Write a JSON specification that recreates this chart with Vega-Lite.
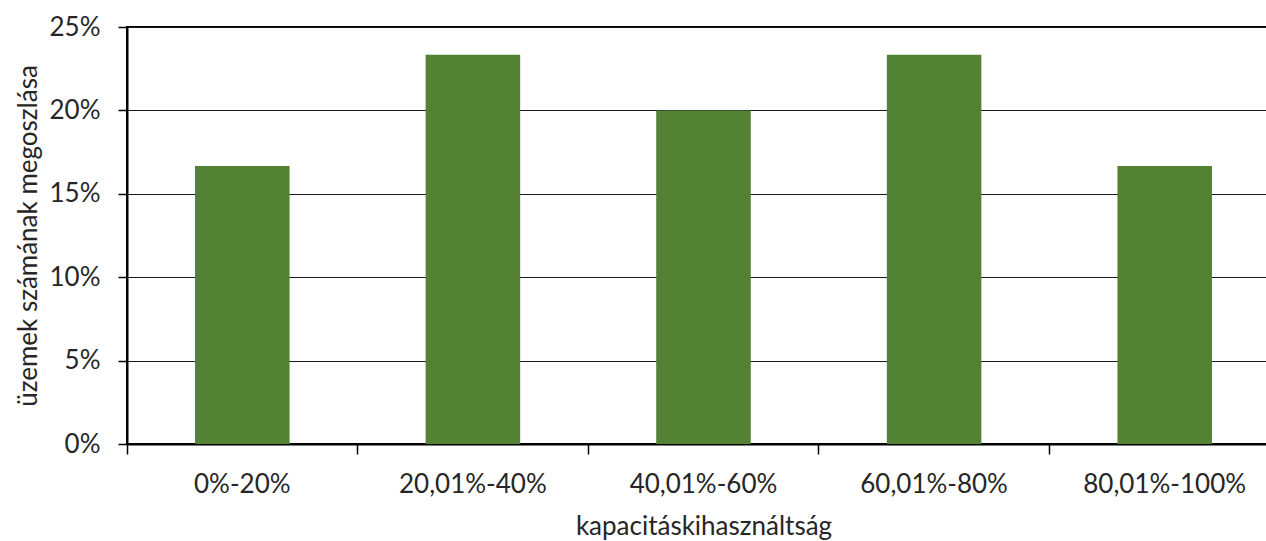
{
  "$schema": "https://vega.github.io/schema/vega-lite/v6.json",
  "autosize": "none",
  "width": 1153,
  "height": 417,
  "padding": {"left": 127, "top": 27, "right": 0, "bottom": 97},
  "background": "white",
  "data": {
    "values": [
      {"kategoria": "0%-20%", "ertek": 0.1667},
      {"kategoria": "20,01%-40%", "ertek": 0.2333},
      {"kategoria": "40,01%-60%", "ertek": 0.2},
      {"kategoria": "60,01%-80%", "ertek": 0.2333},
      {"kategoria": "80,01%-100%", "ertek": 0.1667}
    ]
  },
  "config": {
    "font": "Lato",
    "view": {"stroke": "#000", "strokeWidth": 2},
    "axis": {
      "labelFont": "Lato",
      "titleFont": "Lato",
      "labelColor": "#262626",
      "titleColor": "#262626",
      "labelFontSize": 26,
      "titleFontSize": 26,
      "titleFontWeight": "normal",
      "domainColor": "#000",
      "domainWidth": 2,
      "tickColor": "#000",
      "tickWidth": 1.5
    }
  },
  "mark": {"type": "bar", "color": "#548235", "width": {"band": 0.41}},
  "encoding": {
    "x": {
      "field": "kategoria",
      "type": "nominal",
      "sort": null,
      "scale": {"paddingInner": 0, "paddingOuter": 0},
      "axis": {
        "title": "kapacitáskihasználtság",
        "labelAngle": 0,
        "bandPosition": 0,
        "tickSize": 10,
        "labelPadding": 17,
        "titlePadding": 16,
        "grid": false
      }
    },
    "y": {
      "field": "ertek",
      "type": "quantitative",
      "scale": {"domain": [0, 0.25], "nice": false},
      "axis": {
        "title": "üzemek számának megoszlása",
        "format": ".0%",
        "values": [0, 0.05, 0.1, 0.15, 0.2, 0.25],
        "tickSize": 9,
        "labelPadding": 18,
        "titlePadding": 8,
        "grid": true,
        "gridColor": "#1a1a1a",
        "gridWidth": 1.2
      }
    }
  }
}
